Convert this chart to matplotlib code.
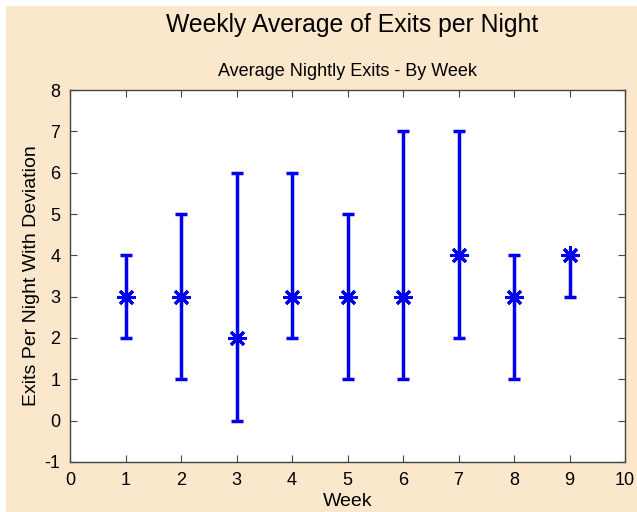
import matplotlib.pyplot as plt
from matplotlib.patches import Rectangle
import numpy as np

plt.rcParams['font.family'] = ['Liberation Sans', 'DejaVu Sans']
plt.rcParams['axes.unicode_minus'] = False

# weekly averages and deviation ranges
weeks = [1, 2, 3, 4, 5, 6, 7, 8, 9]
avg_exits = [3, 3, 2, 3, 3, 3, 4, 3, 4]
low_exits = [2, 1, 0, 2, 1, 1, 2, 1, 3]
high_exits = [4, 5, 6, 6, 5, 7, 7, 4, 4]

avg = np.array(avg_exits)
err = [avg - np.array(low_exits), np.array(high_exits) - avg]

fig = plt.figure(figsize=(6.37, 5.12), dpi=100)
fig.patch.set_facecolor('white')
# beige figure area, leaving the thin white strip at top/left
fig.patches.append(Rectangle((6 / 637, 0), 1, 1 - 6 / 512, transform=fig.transFigure,
                             facecolor='#fbe8cc', edgecolor='none', zorder=-1))

ax = fig.add_axes([70 / 637, 50 / 512, 555 / 637, 372 / 512])
ax.errorbar(weeks, avg_exits, yerr=err, fmt='none', ecolor='#0000ee',
            elinewidth=2.5, capsize=4, capthick=2.5)
ax.plot(weeks, avg_exits, linestyle='none', marker=(8, 2, 0), markersize=13,
        markeredgewidth=2.2, color='#0000ee')

ax.set_xlim(0, 10)
ax.set_ylim(-1, 8)
ax.set_xticks(range(0, 11))
ax.set_yticks(range(-1, 9))
ax.tick_params(direction='in', length=5, top=True, right=True, labelsize=13,
               color='#444444', pad=7)
for s in ax.spines.values():
    s.set_color('#444444')
    s.set_linewidth(1)

ax.set_xlabel('Week', fontsize=14, labelpad=3)
ax.set_ylabel('Exits Per Night With Deviation', fontsize=14, labelpad=3)
ax.set_title('Average Nightly Exits - By Week', fontsize=13, pad=10)
fig.text(0.553, 0.952, 'Weekly Average of Exits per Night', fontsize=17.8,
         ha='center', va='center')

fig.savefig('out.png', dpi=100, facecolor=fig.get_facecolor())
